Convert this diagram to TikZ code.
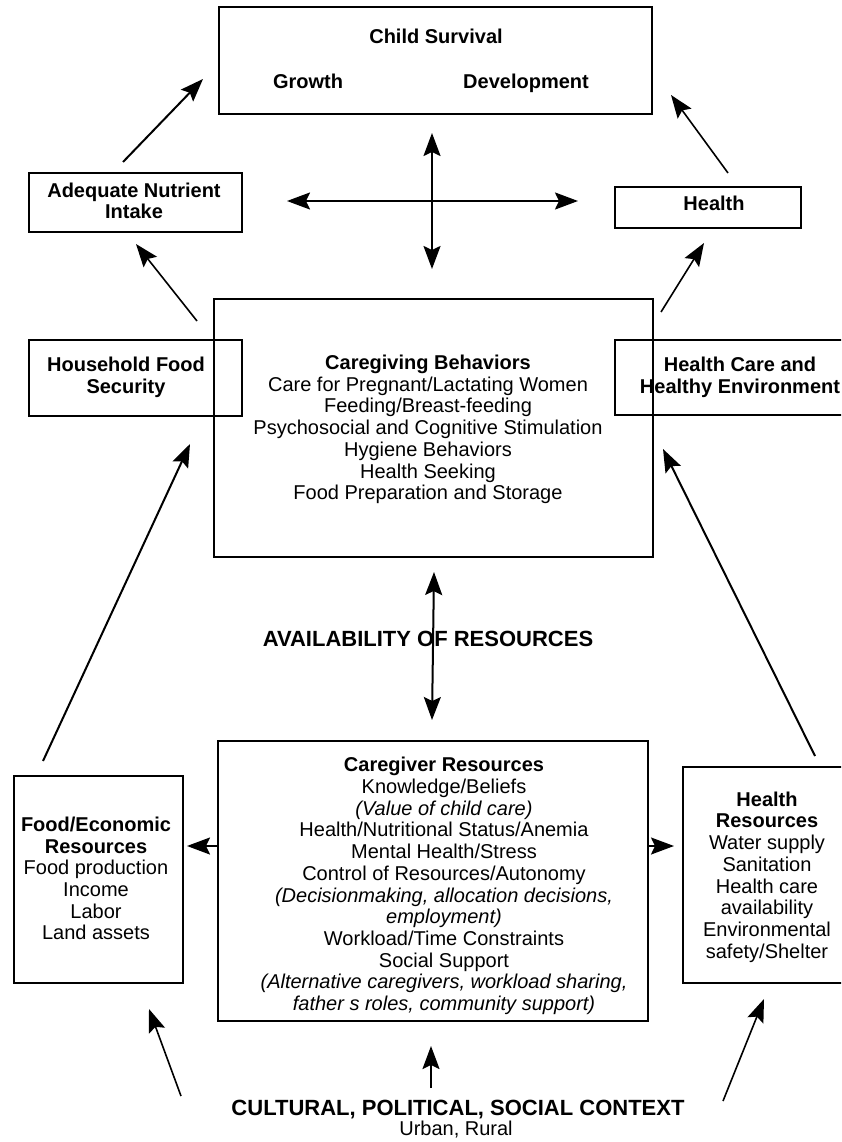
\documentclass[tikz,border=0pt]{standalone}
\usepackage{fontspec}
\setmainfont{Liberation Sans}
\usetikzlibrary{arrows.meta}
\begin{document}
\begin{tikzpicture}[x=1pt,y=-1pt,
  box/.style={draw, line width=1.8pt, inner sep=0pt},
  txt/.style={inner sep=0pt, align=center, font=\fontsize{20}{21.7}\selectfont},
  captxt/.style={inner sep=0pt, font=\fontsize{22}{24}\selectfont\bfseries},
  tipstyle/.style={-{Stealth[length=23pt,width=17pt,inset=4pt]}},
  arr/.style={tipstyle, line width=2pt},
  thinarr/.style={tipstyle, line width=1.6pt},
  darr/.style={{Stealth[length=23pt,width=17pt,inset=4pt]}-{Stealth[length=23pt,width=17pt,inset=4pt]}, line width=2pt}]
\useasboundingbox (0,0) rectangle (841,1142);
\clip (0,0) rectangle (841,1142);
\fill[white] (0,0) rectangle (841,1142);

% boxes
\node[box, minimum width=433pt, minimum height=107pt] (top) at (435.5,60.5) {};
\node[box, minimum width=213pt, minimum height=59pt] (ani) at (135.5,202.5) {};
\node[box, minimum width=186pt, minimum height=41pt] (hl) at (708,207.5) {};
\node[box, minimum width=213pt, minimum height=76pt] (hfs) at (135.5,378) {};
\node[box, minimum width=439pt, minimum height=258pt] (cb) at (433.5,428) {};
\node[box, minimum width=250pt, minimum height=75pt] (hce) at (740,377.5) {};
\node[box, minimum width=169pt, minimum height=207pt] (fer) at (98.5,879.5) {};
\node[box, minimum width=430pt, minimum height=280pt] (cr) at (433,881) {};
\node[box, minimum width=168pt, minimum height=216pt] (hr) at (767,875) {};

% texts
\node[txt, anchor=base] (tcs) at (436,44) {\bfseries Child Survival};
\node[txt, anchor=base] (tgr) at (308,89) {\bfseries Growth};
\node[txt, anchor=base] (tdv) at (526,89) {\bfseries Development};
\node[txt] (tani) at (134,201) {\bfseries Adequate Nutrient\\\bfseries Intake};
\node[txt, anchor=base] (thl) at (714,211) {\bfseries Health};
\node[txt] (thfs) at (126,377) {\bfseries Household Food\\\bfseries Security};
\node[txt] (thce) at (740,377) {\bfseries Health Care and\\\bfseries Healthy Environment};
\node[txt] (tcb) at (428,429.5) {\bfseries Caregiving Behaviors\\
  Care for Pregnant/Lactating Women\\
  Feeding/Breast-feeding\\
  Psychosocial and Cognitive Stimulation\\
  Hygiene Behaviors\\
  Health Seeking\\
  Food Preparation and Storage};
\node[captxt, anchor=base] (tav) at (428,646) {AVAILABILITY OF RESOURCES};
\node[txt] (tfer) at (96,878.5) {\bfseries Food/Economic\\\bfseries Resources\\
  Food production\\Income\\Labor\\Land assets};
\node[txt] (tcr) at (444,886) {\bfseries Caregiver Resources\\
  Knowledge/Beliefs\\
  \itshape (Value of child care)\\
  Health/Nutritional Status/Anemia\\
  Mental Health/Stress\\
  Control of Resources/Autonomy\\
  \itshape (Decisionmaking, allocation decisions,\\
  \itshape employment)\\
  Workload/Time Constraints\\
  Social Support\\
  \itshape (Alternative caregivers, workload sharing,\\
  \itshape father s roles, community support)};
\node[txt] (thr) at (767,877) {\bfseries Health\\\bfseries Resources\\
  Water supply\\Sanitation\\Health care\\availability\\Environmental\\safety/Shelter};
\node[captxt, anchor=base] (tcx) at (458,1115) {CULTURAL, POLITICAL, SOCIAL CONTEXT};
\node[txt, anchor=base] (tur) at (456,1135) {Urban, Rural};

% connector end points
\coordinate (a1s) at (123,162); \coordinate (a1e) at (203,79);
\coordinate (a2s) at (728,173); \coordinate (a2e) at (671,95);
\coordinate (xv1) at (432,133); \coordinate (xv2) at (432,269);
\coordinate (xh1) at (287,201); \coordinate (xh2) at (578,201);
\coordinate (a3s) at (197,321); \coordinate (a3e) at (136,244);
\coordinate (a4s) at (661,312); \coordinate (a4e) at (704,243);
\coordinate (a5s) at (43,761);  \coordinate (a5e) at (190,444);
\coordinate (a6s) at (815,756); \coordinate (a6e) at (663,449);
\coordinate (dv1) at (434,572); \coordinate (dv2) at (432,720);
\coordinate (l1s) at (218,846); \coordinate (l1e) at (187,846);
\coordinate (r1s) at (648,846); \coordinate (r1e) at (674,846);
\coordinate (b1s) at (181,1096); \coordinate (b1e) at (149,1009);
\coordinate (b2s) at (431,1088); \coordinate (b2e) at (431,1046);
\coordinate (b3s) at (723,1101); \coordinate (b3e) at (764,999);

% connectors
\draw[arr] (a1s) -- (a1e);
\draw[thinarr] (a2s) -- (a2e);
\draw[darr] (xv1) -- (xv2);
\draw[darr] (xh1) -- (xh2);
\draw[thinarr] (a3s) -- (a3e);
\draw[thinarr] (a4s) -- (a4e);
\draw[arr] (a5s) -- (a5e);
\draw[arr] (a6s) -- (a6e);
\draw[darr] (dv1) -- (dv2);
\draw[arr] (l1s) -- (l1e);
\draw[arr] (r1s) -- (r1e);
\draw[thinarr] (b1s) -- (b1e);
\draw[arr] (b2s) -- (b2e);
\draw[thinarr] (b3s) -- (b3e);
\end{tikzpicture}
\end{document}
